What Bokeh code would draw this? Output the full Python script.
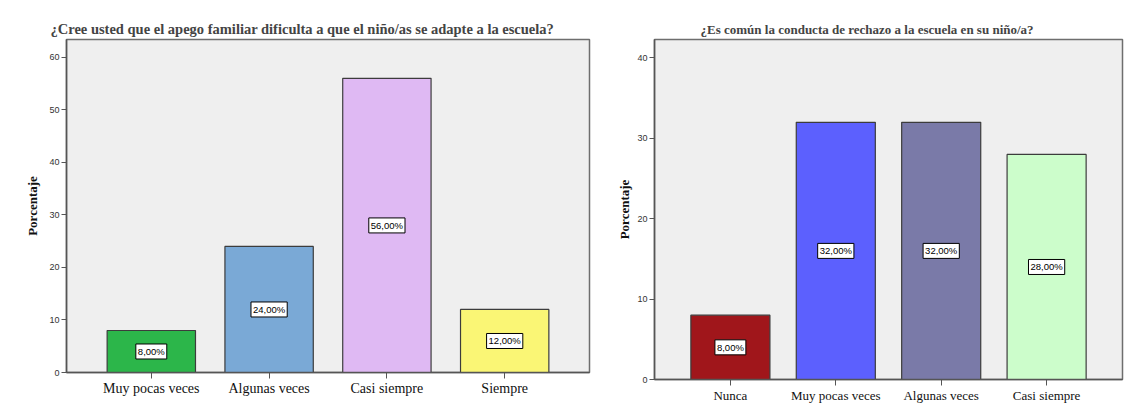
from bokeh.plotting import figure
from bokeh.layouts import column, row, Spacer
from bokeh.models import FactorRange, Range1d, SingleIntervalTicker, Label
from bokeh.embed import file_html
from bokeh.resources import INLINE

# ---- data ----
title1 = "¿Cree usted que el apego familiar dificulta a que el niño/as se adapte a la escuela?"
cats1 = ["Muy pocas veces", "Algunas veces", "Casi siempre", "Siempre"]
vals1 = [8.0, 24.0, 56.0, 12.0]
colors1 = ["#2cb64a", "#7aa9d6", "#dfb9f3", "#faf675"]

title2 = "¿Es común la conducta de rechazo a la escuela en su niño/a?"
cats2 = ["Nunca", "Muy pocas veces", "Algunas veces", "Casi siempre"]
vals2 = [8.0, 32.0, 32.0, 28.0]
colors2 = ["#a0161b", "#5c60fe", "#7a7aa8", "#ccfdcb"]

ylabel = "Porcentaje"

SERIF = "Liberation Serif"
SANS = "Liberation Sans"


def make_chart(title, cats, vals, colors, ymax, width, height,
               mbl, mbr, mbb, title_offset, label_standoff,
               title_size, xlab_size):
    p = figure(x_range=FactorRange(*cats, range_padding=0.11),
               y_range=Range1d(0, ymax),
               width=width, height=height,
               output_backend="svg", toolbar_location=None,
               min_border_left=mbl, min_border_right=mbr,
               min_border_top=27, min_border_bottom=mbb)
    p.frame_align = False
    p.vbar(x=cats, top=vals, width=0.75, fill_color=colors,
           line_color="#3c3c3c", line_width=1.2)
    # factor i sits at synthetic coordinate i + 0.5 on a FactorRange
    for i, v in enumerate(vals):
        p.add_layout(Label(x=i + 0.5, y=v / 2, text=f"{v:.2f}%".replace(".", ","),
                           text_font=SANS, text_font_size="9.5px",
                           text_color="black", text_align="center",
                           text_baseline="middle", padding=2,
                           background_fill_color="white",
                           border_line_color="black", border_line_width=1))
    p.title.text = title
    p.title.text_font = SERIF
    p.title.text_font_size = title_size
    p.title.text_font_style = "bold"
    p.title.align = "left"
    p.title.offset = title_offset
    p.title.standoff = 5
    p.background_fill_color = "#efefef"
    p.border_fill_color = "white"
    p.outline_line_color = "#6e6e6e"
    p.outline_line_width = 1.5
    p.xgrid.visible = False
    p.ygrid.visible = False

    p.yaxis.ticker = SingleIntervalTicker(interval=10)
    p.yaxis.minor_tick_line_color = None
    p.yaxis.major_tick_out = 5
    p.yaxis.major_tick_in = 0
    p.yaxis.major_label_text_font = SANS
    p.yaxis.major_label_text_font_size = "9px"
    p.yaxis.major_label_text_color = "#333333"
    p.yaxis.major_label_standoff = 2
    p.yaxis.axis_label = ylabel
    p.yaxis.axis_label_text_font = SERIF
    p.yaxis.axis_label_text_font_size = "13px"
    p.yaxis.axis_label_text_font_style = "bold"
    p.yaxis.axis_label_text_color = "#111111"
    p.yaxis.axis_label_standoff = label_standoff
    p.yaxis.axis_line_color = "#555555"
    p.yaxis.axis_line_width = 1.5
    p.yaxis.major_tick_line_color = "#555555"

    p.xaxis.major_tick_out = 6
    p.xaxis.major_tick_in = 0
    p.xaxis.major_label_text_font = SERIF
    p.xaxis.major_label_text_font_size = xlab_size
    p.xaxis.major_label_text_color = "#111111"
    p.xaxis.major_label_standoff = 2
    p.xaxis.axis_label_standoff = 0
    p.xaxis.axis_label_text_font_size = "0px"
    p.xaxis.axis_line_color = "#555555"
    p.xaxis.axis_line_width = 1.5
    p.xaxis.major_tick_line_color = "#555555"
    p.xaxis.minor_tick_line_color = None
    return p


p1 = make_chart(title1, cats1, vals1, colors1, 63.4, 600, 394,
                66, 11, 34, -16, 6, "14.5px", "14px")
p2 = make_chart(title2, cats2, vals2, colors2, 42.3, 525, 394,
                54, 3, 27, 46, 2, "13px", "13px")

# thin rule at the very top
top = figure(width=1125, height=2, output_backend="svg", toolbar_location=None,
             x_axis_type=None, y_axis_type=None,
             x_range=Range1d(0, 1), y_range=Range1d(0, 1),
             min_border_left=0, min_border_right=0, min_border_top=0,
             min_border_bottom=0)
top.background_fill_color = "black"
top.border_fill_color = "black"
top.outline_line_color = None
top.grid.visible = False
top.scatter(x=[0], y=[0], size=0, alpha=0)

layout = column(Spacer(width=1125, height=10), top, row(p1, p2))
open("out.html", "w").write(file_html(layout, INLINE))
